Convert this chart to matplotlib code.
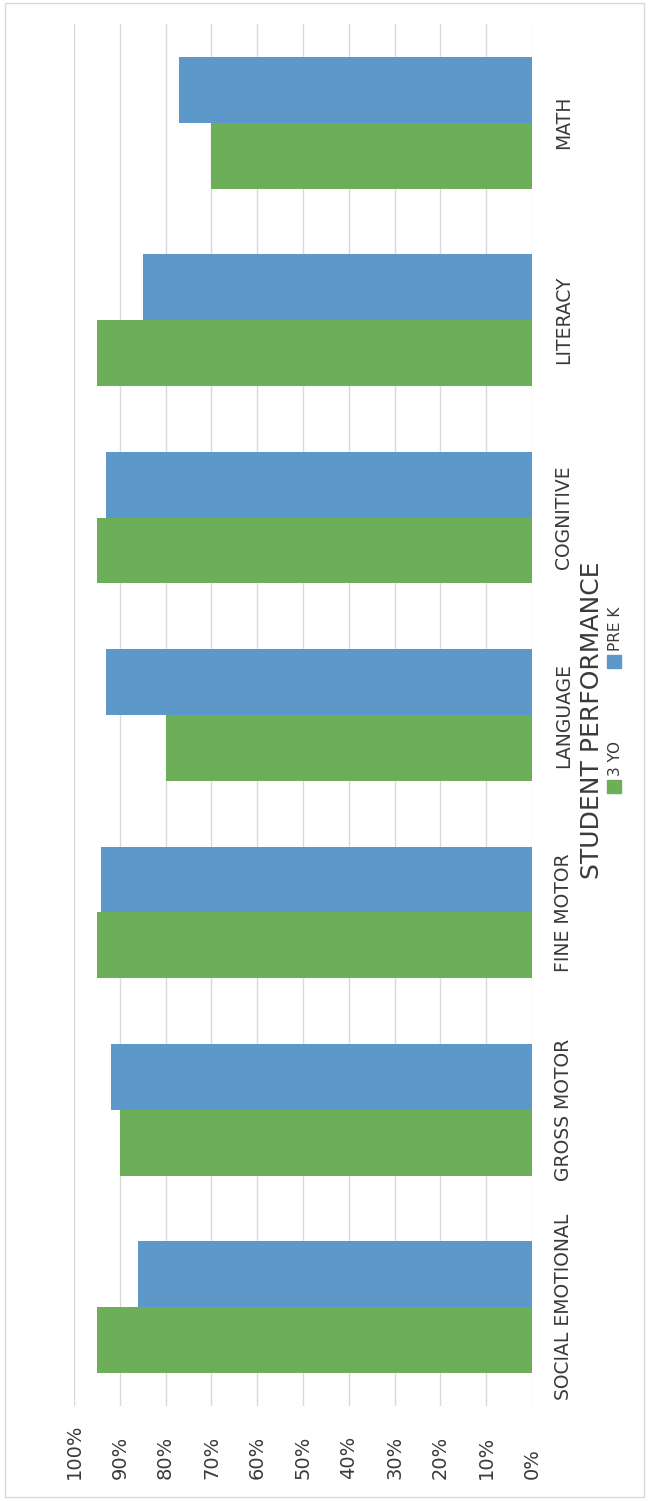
import matplotlib.pyplot as plt
import numpy as np
from matplotlib.patches import Rectangle

# Données (ordre d'origine : de bas en haut sur l'image tournée)
categories = ["SOCIAL EMOTIONAL", "GROSS MOTOR", "FINE MOTOR", "LANGUAGE",
              "COGNITIVE", "LITERACY", "MATH"]
three_yo = [0.95, 0.90, 0.95, 0.80, 0.95, 0.95, 0.70]
pre_k = [0.86, 0.92, 0.94, 0.93, 0.93, 0.85, 0.77]
value_ticks = [0.0, 0.1, 0.2, 0.3, 0.4, 0.5, 0.6, 0.7, 0.8, 0.9, 1.0]
series_names = ["3 YO", "PRE K"]

GREEN = "#6DAE58"
BLUE = "#5D98CB"
TEXT = "#3a3a3a"
W, H = 649, 1501


def px(x, y):
    """pixels (origine en haut à gauche) -> fraction de figure"""
    return x / W, 1 - y / H


fig = plt.figure(figsize=(W / 100, H / 100), dpi=100)
plt.rcParams['font.family'] = ['DejaVu Sans']

left, top = px(74, 24)
right, bottom = px(532, 1406)
ax = fig.add_axes([left, bottom, right - left, top - bottom])

y = np.arange(len(categories))
h = 1 / 3
ax.barh(y - h / 2, three_yo, height=h, color=GREEN, zorder=2)
ax.barh(y + h / 2, pre_k, height=h, color=BLUE, zorder=2)

ax.set_xlim(1.0, 0.0)
ax.set_ylim(-0.5, len(categories) - 0.5)
ax.set_xticks(value_ticks)
ax.grid(axis='x', color='#D9D9D9', linewidth=1.0, zorder=0)
ax.tick_params(axis='x', length=0, labelbottom=False)
for s in ax.spines.values():
    s.set_visible(False)

# étiquettes des catégories (à droite, tournées)
ax.yaxis.tick_right()
ax.set_yticks(y)
ax.set_yticklabels(categories, rotation=90, va='center', fontsize=13.5, color=TEXT)
ax.tick_params(axis='y', length=0, pad=16)

# étiquettes de pourcentage (alignées par le bas)
for v in value_ticks:
    ax.text(v, (1406 - 1479) / 1382, f"{int(round(v * 100))}%",
            transform=ax.get_xaxis_transform(), rotation=90,
            ha='center', va='bottom', fontsize=14, color=TEXT)

# titre
fig.text(*px(592, 720), "STUDENT PERFORMANCE", rotation=90, ha='center',
         va='center', fontsize=18, color=TEXT)

# légende manuelle
for name, color, sq_y, txt_y in [(series_names[0], GREEN, 780, 776),
                                 (series_names[1], BLUE, 655, 651)]:
    x0, y0 = px(607, sq_y + 13)
    fig.patches.append(Rectangle((x0, y0), 14 / W, 13 / H, color=color,
                                 transform=fig.transFigure, figure=fig))
    fig.text(*px(615, txt_y), name, rotation=90, ha='center', va='bottom',
             fontsize=11, color=TEXT)

# cadre du graphique
fx, fy = px(5, 1497)
fig.patches.append(Rectangle((fx, fy), 639 / W, 1494 / H, fill=False,
                             edgecolor='#D9D9D9', linewidth=1,
                             transform=fig.transFigure, figure=fig))

fig.savefig("out.png", dpi=100)
